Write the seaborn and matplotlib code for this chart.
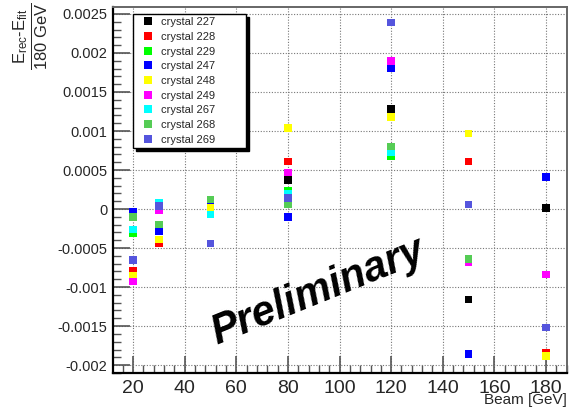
import numpy as np
import pandas as pd
import matplotlib
matplotlib.use("Agg")
import matplotlib.pyplot as plt
import seaborn as sns
from matplotlib.ticker import MultipleLocator

# beam energies (GeV)
beam = [20, 30, 50, 80, 120, 150, 180]

# (E_rec - E_fit) / 180 GeV per crystal, NaN where the point is not visible
crystal_227 = [np.nan, np.nan, np.nan, 0.00037, 0.00128, -0.00116, 0.00001]
crystal_228 = [-0.00079, -0.00044, np.nan, 0.00061, np.nan, 0.00061, -0.00184]
crystal_229 = [-0.00031, np.nan, np.nan, 0.00023, 0.00068, np.nan, np.nan]
crystal_247 = [-0.00003, -0.00029, 0.00006, -0.00010, 0.00180, -0.00186, 0.00041]
crystal_248 = [-0.00085, -0.00039, 0.00001, 0.00104, 0.00118, 0.00097, -0.00188]
crystal_249 = [-0.00093, -0.00002, np.nan, 0.00047, 0.00190, -0.00068, -0.00084]
crystal_267 = [-0.00026, 0.00008, -0.00007, 0.00020, 0.00073, np.nan, np.nan]
crystal_268 = [-0.00010, -0.00020, 0.00012, 0.00006, 0.00080, -0.00064, np.nan]
crystal_269 = [-0.00065, 0.00004, -0.00044, 0.00014, 0.00239, 0.00006, -0.00152]

names = ["crystal 227", "crystal 228", "crystal 229", "crystal 247", "crystal 248",
         "crystal 249", "crystal 267", "crystal 268", "crystal 269"]
series = [crystal_227, crystal_228, crystal_229, crystal_247, crystal_248,
          crystal_249, crystal_267, crystal_268, crystal_269]
colors = ["#000000", "#ff0000", "#00ff00", "#0000ff", "#ffff00",
          "#ff00ff", "#00ffff", "#55cc55", "#5555dd"]

rows = []
for name, vals in zip(names, series):
    for b, v in zip(beam, vals):
        rows.append({"beam": b, "dev": v, "crystal": name})
df = pd.DataFrame(rows)

sns.set_theme(style="white")
plt.rcParams["font.family"] = ["Liberation Sans", "DejaVu Sans"]
plt.rcParams["mathtext.fontset"] = "custom"
plt.rcParams["mathtext.rm"] = "Liberation Sans"
plt.rcParams["mathtext.it"] = "Liberation Sans:italic"
plt.rcParams["mathtext.default"] = "regular"

fig = plt.figure(figsize=(5.8, 4.08), dpi=100)
ax = fig.add_axes([0.195, 0.086, 0.783, 0.897])

sns.scatterplot(data=df, x="beam", y="dev", hue="crystal", hue_order=names,
                palette=colors, marker="s", s=30, linewidth=0, ax=ax)

ax.xaxis.set_major_locator(MultipleLocator(20))
ax.xaxis.set_minor_locator(MultipleLocator(4))
ax.yaxis.set_major_locator(MultipleLocator(0.0005))
ax.yaxis.set_minor_locator(MultipleLocator(0.0001))
yt = [-0.002, -0.0015, -0.001, -0.0005, 0, 0.0005, 0.001, 0.0015, 0.002, 0.0025]
ax.set_yticks(yt)
ax.set_yticklabels(["%g" % t for t in yt])
ax.set_xticks([20, 40, 60, 80, 100, 120, 140, 160, 180])
ax.set_xlim(12.3, 188.2)
ax.set_ylim(-0.0021, 0.00259)

ax.grid(True, which="major", linestyle=(0, (1, 1.5)), color="#777777", linewidth=0.8)
ax.tick_params(axis="both", which="major", direction="in", length=12, width=1.2,
               color="#555555", left=True, bottom=True)
ax.tick_params(axis="both", which="minor", direction="in", length=6, width=1.0,
               color="#555555", left=True, bottom=True)
ax.tick_params(axis="x", labelsize=14, pad=5)
ax.tick_params(axis="y", labelsize=10.5, pad=4)

for side in ["left", "bottom"]:
    ax.spines[side].set_color("black")
    ax.spines[side].set_linewidth(1.6)
for side in ["top", "right"]:
    ax.spines[side].set_color("#666666")
    ax.spines[side].set_linewidth(1.4)

ax.set_xlabel("Beam [GeV]", fontsize=11, loc="right")
ax.xaxis.set_label_coords(1.0, -0.055)
ax.set_ylabel(r"$\frac{E_{rec}\text{-}E_{fit}}{180\ GeV}$", fontsize=17, loc="top")
ax.yaxis.set_label_coords(-0.14, 1.011)

ax.text(0.45, 0.22, "Preliminary", transform=ax.transAxes, rotation=22,
        fontsize=30, fontweight="heavy", fontstyle="italic",
        ha="center", va="center", color="black")

sns.move_legend(ax, "upper left", bbox_to_anchor=(0.044, 0.6, 0.249, 0.381),
                mode="expand", borderaxespad=0, title=None,
                frameon=True, fancybox=False, edgecolor="black",
                shadow={"color": "black", "alpha": 1.0}, fontsize=8,
                labelspacing=0.42, handlelength=2.1, handletextpad=0.15,
                borderpad=0.3, markerscale=1.0, framealpha=1.0)

fig.savefig("out.png", dpi=100)
